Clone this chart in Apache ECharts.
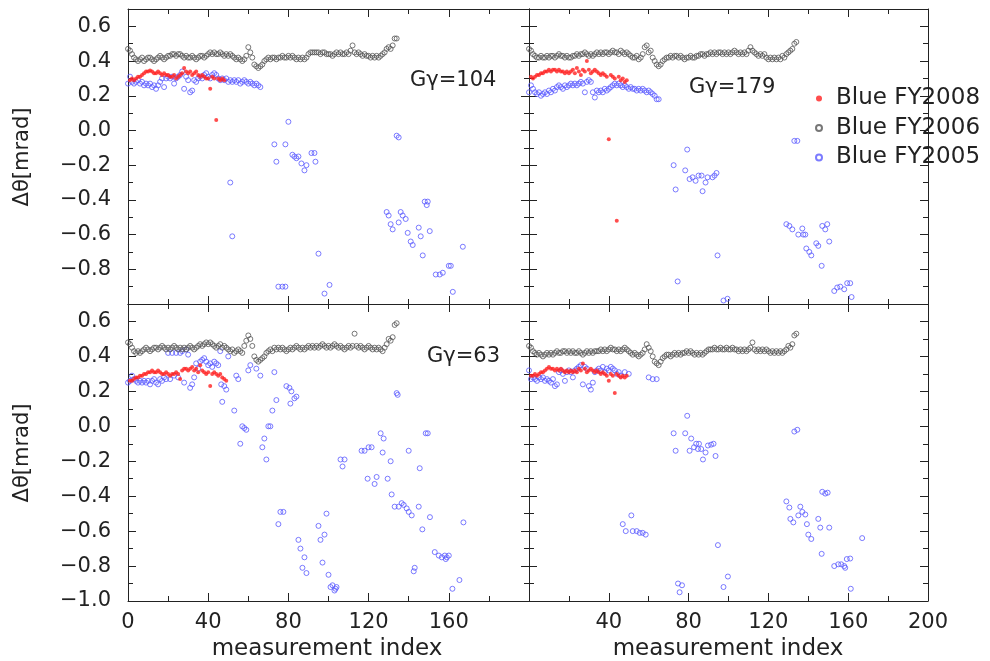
<!DOCTYPE html>
<html><head><meta charset="utf-8">
<script src="https://cdn.jsdelivr.net/npm/echarts@6/dist/echarts.min.js"></script>
<style>html,body{margin:0;padding:0;background:#fff}#c{width:990px;height:661px}</style>
</head><body><div id="c"></div>
<script>
const FONT = 'DejaVu Sans';
const SERIES_NAMES = ['Blue FY2008', 'Blue FY2006', 'Blue FY2005'];
const PANEL_LABELS = ['G\u03b3=104', 'G\u03b3=179', 'G\u03b3=63', ''];
const X_LABEL = 'measurement index';
const Y_LABEL = '\u0394\u03b8[mrad]';

// ---- Gγ=104 (top-left) ----
const fy2006_104 = [ // index 0..134
0.47,0.46,0.44,0.42,0.41, 0.40,0.41,0.42,0.40,0.41, 0.42,0.42,0.41,0.40,0.41, 0.42,0.43,0.42,0.41,0.42,
0.43,0.43,0.44,0.44,0.43, 0.44,0.44,0.43,0.42,0.43, 0.42,0.42,0.43,0.42,0.41, 0.42,0.43,0.43,0.42,0.43,
0.44,0.45,0.44,0.45,0.44, 0.44,0.45,0.44,0.43,0.44, 0.43,0.44,0.43,0.42,0.41, 0.42,0.41,0.40,0.41,0.43,
0.48,0.45,0.42,0.38,0.37, 0.36,0.37,0.38,0.40,0.41, 0.42,0.41,0.42,0.42,0.41, 0.42,0.42,0.43,0.42,0.42,
0.43,0.42,0.43,0.42,0.41, 0.42,0.41,0.42,0.41,0.42, 0.44,0.45,0.45,0.45,0.45, 0.45,0.44,0.45,0.45,0.44,
0.44,0.44,0.43,0.44,0.45, 0.44,0.45,0.44,0.44,0.45, 0.44,0.46,0.49,0.45,0.44, 0.45,0.44,0.43,0.44,0.43,
0.43,0.42,0.43,0.42,0.43, 0.42,0.43,0.44,0.45,0.47, 0.48,0.47,0.49,0.53,0.53];
const fy2008_104 = [ // index 1..48
0.29,0.30,0.29,0.30,0.31,0.31,0.32,0.33,0.34,0.34,0.345,0.34,0.33,0.33,0.34,0.33,0.32,0.33,0.32,0.32,
0.31,0.31,0.32,0.30,0.31,0.32,0.33,0.36,0.34,0.33,0.34,0.32,0.33,0.34,0.32,0.31,0.32,0.31,0.30,0.30,
0.24,0.31,0.30,0.06,0.30,0.29,0.30,0.29];
const fy2005_104_band = [ // index 0..66
0.27,0.31,0.28,0.27,0.28,0.29,0.27,0.28,0.26,0.27,0.26,0.27,0.25,0.26,0.24,0.26,0.28,0.30,0.25,0.30,
0.31,0.30,0.31,0.27,0.30,0.31,0.32,0.34,0.24,0.31,0.29,0.22,0.23,0.29,0.28,0.30,0.31,0.30,0.32,0.33,
0.31,0.30,0.32,0.33,0.32,0.30,0.29,0.30,0.29,0.30,0.28,0.29,0.28,0.29,0.28,0.29,0.27,0.28,0.29,0.28,
0.27,0.28,0.27,0.26,0.27,0.26,0.25];
const fy2005_104_pts = [
[51,-0.30],[52,-0.61],[73,-0.08],[74,-0.18],[75,-0.90],[77,-0.90],[78.5,-0.90],[78.5,-0.08],[80,0.05],
[82,-0.14],[83,-0.15],[84,-0.16],[85,-0.15],[86.5,-0.19],[88,-0.23],[89,-0.20],[91.5,-0.13],[93,-0.13],
[93.5,-0.18],[95,-0.71],[98,-0.94],[100.5,-0.89],[129,-0.47],[130,-0.49],[131,-0.54],[132,-0.57],
[134,-0.03],[135,-0.04],[135,-0.53],[136,-0.47],[137,-0.49],[138.5,-0.51],[139.5,-0.59],[141,-0.64],
[142,-0.66],[145,-0.56],[146,-0.61],[147,-0.72],[148,-0.41],[149.5,-0.41],[149,-0.43],[150.5,-0.58],
[153.5,-0.83],[155.5,-0.83],[157,-0.82],[160,-0.78],[161,-0.78],[162,-0.93],[167,-0.67]];

// ---- Gγ=179 (top-right) ----
const fy2006_179 = [ // index 0..134
0.47,0.46,0.44,0.43,0.42, 0.42,0.43,0.42,0.42,0.43, 0.42,0.43,0.43,0.42,0.43, 0.44,0.43,0.43,0.42,0.43,
0.42,0.42,0.43,0.43,0.44, 0.43,0.44,0.44,0.45,0.44, 0.43,0.44,0.43,0.44,0.45, 0.44,0.45,0.44,0.45,0.45,
0.44,0.45,0.46,0.45,0.45, 0.44,0.46,0.45,0.44,0.45, 0.44,0.43,0.42,0.42,0.43, 0.41,0.42,0.44,0.48,0.49,
0.45,0.46,0.42,0.40,0.38, 0.37,0.38,0.40,0.41,0.42, 0.42,0.43,0.42,0.43,0.43, 0.42,0.43,0.42,0.41,0.42,
0.42,0.43,0.42,0.42,0.43, 0.43,0.44,0.44,0.43,0.44, 0.44,0.45,0.44,0.45,0.44, 0.45,0.45,0.44,0.45,0.44,
0.45,0.44,0.45,0.46,0.45, 0.44,0.45,0.44,0.45,0.44, 0.46,0.48,0.46,0.45,0.44, 0.43,0.44,0.43,0.44,0.42,
0.41,0.42,0.41,0.42,0.41, 0.42,0.41,0.43,0.42,0.44, 0.45,0.46,0.47,0.50,0.51];
const fy2008_179 = [ // index 1..49
0.31,0.30,0.31,0.32,0.32,0.33,0.33,0.34,0.34,0.35,0.34,0.35,0.35,0.34,0.35,0.34,0.34,0.33,0.34,0.33,
0.34,0.35,0.33,0.36,0.34,0.32,0.35,0.34,0.40,0.35,0.33,0.34,0.35,0.34,0.33,0.32,0.33,0.32,0.31,-0.05,
0.32,0.31,0.30,-0.52,0.31,0.29,0.30,0.28,0.29];
const fy2005_179_band = [ // index 0..65
0.22,0.26,0.24,0.22,0.21,0.22,0.20,0.21,0.22,0.21,0.23,0.22,0.24,0.23,0.25,0.26,0.25,0.24,0.26,0.25,
0.26,0.27,0.26,0.27,0.26,0.27,0.28,0.27,0.22,0.28,0.29,0.28,0.22,0.19,0.23,0.22,0.23,0.22,0.24,0.23,
0.24,0.25,0.26,0.27,0.26,0.27,0.26,0.25,0.26,0.25,0.24,0.25,0.24,0.24,0.23,0.24,0.23,0.24,0.23,0.22,
0.23,0.22,0.21,0.20,0.18,0.18];
const fy2005_179_pts = [
[72.5,-0.20],[73.5,-0.34],[74.5,-0.87],[78.3,-0.23],[79.3,-0.11],[80.5,-0.28],[82,-0.27],[83.5,-0.29],
[85,-0.26],[87,-0.35],[86.5,-0.26],[88.5,-0.30],[89.5,-0.27],[92,-0.27],[93,-0.26],[94,-0.245],
[94.5,-0.72],[97.5,-0.98],[99.5,-0.97],[129,-0.54],[130.5,-0.55],[132,-0.57],[133,-0.06],[134.5,-0.06],
[135,-0.60],[137,-0.565],[137.5,-0.60],[138.5,-0.60],[139,-0.68],[140.5,-0.70],[141.5,-0.72],[144,-0.65],
[145,-0.665],[146.7,-0.78],[147,-0.55],[148.5,-0.57],[149.5,-0.54],[150.5,-0.64],[153,-0.925],
[154.5,-0.905],[156,-0.90],[158,-0.915],[159.5,-0.88],[161,-0.88],[161.7,-0.96]];

// ---- Gγ=63 (bottom-left) ----
const fy2006_63 = [ // index 0..134
0.48,0.47,0.45,0.43,0.42, 0.43,0.42,0.43,0.44,0.45, 0.44,0.43,0.44,0.45,0.45, 0.44,0.45,0.46,0.45,0.44,
0.45,0.44,0.45,0.46,0.45, 0.44,0.45,0.44,0.45,0.44, 0.45,0.46,0.45,0.44,0.45, 0.46,0.47,0.46,0.47,0.48,
0.47,0.48,0.47,0.46,0.45, 0.46,0.47,0.45,0.46,0.45, 0.44,0.43,0.44,0.42,0.43, 0.44,0.43,0.42,0.46,0.49,
0.52,0.50,0.46,0.40,0.38, 0.37,0.38,0.39,0.40,0.42, 0.43,0.44,0.43,0.45,0.44, 0.45,0.44,0.45,0.44,0.43,
0.44,0.45,0.44,0.45,0.46, 0.45,0.44,0.45,0.44,0.45, 0.46,0.45,0.46,0.45,0.46, 0.45,0.46,0.47,0.46,0.45,
0.46,0.45,0.46,0.47,0.46, 0.45,0.46,0.45,0.44,0.45, 0.46,0.45,0.46,0.53,0.46, 0.45,0.46,0.45,0.44,0.45,
0.46,0.45,0.44,0.45,0.44, 0.45,0.44,0.43,0.45,0.47, 0.50,0.49,0.51,0.58,0.59];
const fy2008_63 = [ // index 1..49
0.26,0.26,0.27,0.28,0.28,0.29,0.29,0.30,0.30,0.31,0.31,0.32,0.31,0.31,0.32,0.31,0.30,0.30,0.31,0.30,
0.29,0.30,0.30,0.31,0.30,0.27,0.32,0.33,0.33,0.32,0.33,0.34,0.32,0.33,0.31,0.35,0.32,0.31,0.30,0.31,
0.23,0.30,0.31,0.30,0.29,0.30,0.28,0.27,0.26];
const fy2005_63_pts = [
[0,0.25],[1,0.26],[2,0.29],[3,0.27],[4,0.26],[5,0.25],[6,0.26],[7,0.25],[8,0.26],[9,0.25],[10,0.26],
[11,0.24],[12,0.26],[13,0.27],[14,0.25],[15,0.24],[16,0.27],[17,0.26],[18,0.28],[19,0.27],[20,0.42],
[21,0.27],[22,0.42],[23,0.29],[24,0.42],[25,0.28],[26,0.42],[27,0.43],[28,0.25],[29,0.44],[30,0.41],
[31,0.22],[32,0.24],[33,0.28],[34,0.36],[35,0.33],[36,0.37],[37,0.38],[38,0.39],[39,0.37],[40,0.35],
[41,0.36],[42,0.34],[43,0.37],[44,0.36],[45,0.35],[46,0.43],[46.5,0.24],[47,0.14],[48,0.23],[49,0.21],
[50,0.40],[53,0.09],[54,0.29],[55,0.27],[56,-0.10],[57,0.0],[58,-0.01],[59,-0.02],[60,0.32],[61,0.35],
[64,0.33],[66,0.29],[67,-0.12],[68,-0.07],[69,-0.19],[70,0.0],[71,0.0],[72,0.09],[73,0.31],[74,0.15],
[75,-0.56],[76,-0.49],[77.5,-0.49],[79,0.23],[80.5,0.22],[81,0.13],[81.5,0.20],[83,0.16],[84,0.17],
[85,-0.65],[86,-0.70],[87,-0.81],[88,-0.75],[89,-0.84],[95,-0.57],[96,-0.65],[97,-0.78],[98,-0.62],
[99,-0.50],[100,-0.85],[101,-0.92],[102,-0.91],[103,-0.94],[103.5,-0.93],[104,-0.92],[106,-0.19],
[107,-0.23],[108,-0.19],[116.5,-0.14],[118,-0.14],[120,-0.12],[121.5,-0.12],[119.5,-0.30],[123,-0.33],
[124,-0.29],[126,-0.04],[127,-0.15],[127.5,-0.07],[129.5,-0.30],[131,-0.20],[131.5,-0.39],[133,-0.46],
[134,0.19],[134.5,0.18],[135,-0.46],[136.5,-0.44],[137.5,-0.45],[139,-0.47],[140,-0.14],[140,-0.49],
[141.5,-0.51],[143,-0.81],[142.5,-0.83],[145,-0.46],[145.5,-0.24],[146.8,-0.59],[148.5,-0.04],
[149.5,-0.04],[150.6,-0.52],[153,-0.72],[155,-0.74],[156.5,-0.75],[158,-0.74],[159,-0.75],[160,-0.74],
[158.5,-0.76],[161.8,-0.93],[165.3,-0.88],[167.3,-0.55]];

// ---- bottom-right (no label) ----
const fy2006_br = [ // index 0..134
0.46,0.45,0.43,0.42,0.41, 0.42,0.41,0.40,0.41,0.42, 0.41,0.42,0.41,0.42,0.43, 0.42,0.42,0.43,0.43,0.42,
0.43,0.42,0.43,0.42,0.42, 0.43,0.42,0.41,0.42,0.43, 0.42,0.43,0.42,0.43,0.43, 0.43,0.44,0.43,0.44,0.43,
0.44,0.45,0.44,0.44,0.43, 0.44,0.43,0.44,0.45,0.44, 0.43,0.42,0.41,0.42,0.41, 0.40,0.41,0.42,0.44,0.47,
0.45,0.43,0.40,0.37,0.36, 0.35,0.37,0.39,0.40,0.41, 0.41,0.40,0.41,0.42,0.41, 0.42,0.41,0.42,0.42,0.43,
0.42,0.43,0.42,0.41,0.42, 0.41,0.42,0.41,0.42,0.43, 0.44,0.44,0.44,0.45,0.44, 0.44,0.45,0.44,0.44,0.45,
0.44,0.44,0.45,0.44,0.44, 0.43,0.44,0.43,0.44,0.43, 0.44,0.45,0.48,0.44,0.43, 0.44,0.43,0.44,0.43,0.44,
0.43,0.42,0.43,0.42,0.43, 0.42,0.43,0.42,0.43,0.44, 0.46,0.45,0.47,0.52,0.53];
const fy2008_br = [ // index 1..49
0.29,0.29,0.30,0.29,0.30,0.31,0.31,0.32,0.33,0.34,0.33,0.33,0.32,0.33,0.32,0.33,0.32,0.31,0.32,0.31,
0.32,0.31,0.32,0.31,0.33,0.32,0.36,0.33,0.31,0.32,0.33,0.32,0.31,0.32,0.31,0.30,0.31,0.30,0.29,0.26,
0.30,0.29,0.19,0.30,0.29,0.28,0.29,0.28,0.29];
const fy2005_br_pts = [
[0,0.32],[1,0.27],[2,0.28],[3,0.27],[4,0.26],[5,0.28],[6,0.27],[7,0.28],[8,0.26],[9,0.27],[10,0.26],
[11,0.25],[12,0.27],[13,0.23],[14,0.24],[15,0.31],[16,0.32],[17,0.30],[18,0.26],[19,0.31],[20,0.32],
[21,0.31],[22,0.28],[23,0.32],[24,0.33],[25,0.34],[26,0.35],[27,0.24],[28,0.34],[29,0.33],[30,0.23],
[31,0.21],[32,0.25],[33,0.31],[34,0.32],[35,0.33],[36,0.32],[37,0.34],[38,0.31],[39,0.33],[40,0.32],
[41,0.34],[42,0.33],[43,0.32],[44,0.30],[45,0.31],[46,0.29],[48,0.31],[50,0.30],[60,0.28],[62,0.27],
[64,0.27],[47,-0.56],[48.5,-0.60],[51.3,-0.51],[52,-0.60],[54,-0.60],[55.5,-0.61],[57,-0.61],[58.5,-0.62],
[72.5,-0.04],[73.5,-0.14],[74.7,-0.90],[75.5,-0.95],[76.7,-0.91],[78.3,-0.04],[79.3,0.06],[80.5,-0.14],
[81.3,-0.07],[82.7,-0.12],[83.8,-0.10],[85.2,-0.10],[84.7,-0.13],[86.3,-0.13],[87.2,-0.19],[88.5,-0.15],
[89.7,-0.11],[91.3,-0.105],[92.5,-0.10],[93.5,-0.17],[94.7,-0.68],[97.5,-0.92],[99.7,-0.86],[129,-0.43],
[130.5,-0.465],[131,-0.53],[132.5,-0.55],[133,-0.03],[134.5,-0.02],[135,-0.51],[136,-0.46],[137,-0.49],
[138.5,-0.505],[139.3,-0.56],[140,-0.62],[141.5,-0.645],[145,-0.53],[146,-0.58],[146.7,-0.73],
[147,-0.375],[148.5,-0.385],[149.7,-0.38],[150.5,-0.58],[153,-0.80],[155,-0.79],[156.5,-0.79],
[158,-0.80],[158.5,-0.81],[159.3,-0.76],[161,-0.757],[161.3,-0.93],[167,-0.64]];

// ---------- build ----------
const seq = (arr, start) => arr.map((v, k) => [start + k, v]);
const panelsData = [
  {g: fy2006_104, r: fy2008_104, b: seq(fy2005_104_band, 0).concat(fy2005_104_pts)},
  {g: fy2006_179, r: fy2008_179, b: seq(fy2005_179_band, 0).concat(fy2005_179_pts)},
  {g: fy2006_63,  r: fy2008_63,  b: fy2005_63_pts},
  {g: fy2006_br,  r: fy2008_br,  b: fy2005_br_pts}
];
const layout = [
  {left:128, top:9,   width:401, height:295, xLab:false, yLab:true,  hideMinX:false, hideMaxX:false, hideMinY:true},
  {left:529, top:9,   width:399, height:295, xLab:false, yLab:false, hideMinX:false, hideMaxX:false, hideMinY:true},
  {left:128, top:304, width:401, height:297, xLab:true,  yLab:true,  hideMinX:false, hideMaxX:true,  hideMinY:false},
  {left:529, top:304, width:399, height:297, xLab:true,  yLab:false, hideMinX:true,  hideMaxX:false, hideMinY:false}
];
const AX = '#222';
const grids = [], xAxes = [], yAxes = [], series = [];
layout.forEach((L, i) => {
  grids.push({left:L.left, top:L.top, width:L.width, height:L.height, outerBoundsMode:'none', containLabel:false});
  ['bottom','top'].forEach((pos) => {
    const show = L.xLab && pos === 'bottom';
    xAxes.push({type:'value', gridIndex:i, position:pos, min:0, max:200, interval:40,
      axisLine:{show:true, onZero:false, lineStyle:{color:AX, width:1}},
      axisTick:{show:true, inside:true, length:8, lineStyle:{color:AX}},
      minorTick:{show:true, splitNumber:2, length:5, lineStyle:{color:AX}},
      splitLine:{show:false},
      axisLabel:{show:show, margin:11, fontFamily:FONT, fontSize:21, color:'#222',
        formatter: v => ((L.hideMinX && v === 0) || (L.hideMaxX && v === 200)) ? '' : String(v)}
    });
  });
  ['left','right'].forEach((pos) => {
    const show = L.yLab && pos === 'left';
    yAxes.push({type:'value', gridIndex:i, position:pos, min:-1, max:0.7, interval:0.2,
      axisLine:{show:true, onZero:false, lineStyle:{color:AX, width:1}},
      axisTick:{show:true, inside:true, length:8, lineStyle:{color:AX}},
      minorTick:{show:true, splitNumber:2, length:5, lineStyle:{color:AX}},
      splitLine:{show:false},
      axisLabel:{show:show, margin:17, fontFamily:FONT, fontSize:21, color:'#222',
        formatter: v => {
          if (v > 0.65) return '';
          if (L.hideMinY && v < -0.95) return '';
          const s = (Math.abs(v) < 1e-9 ? 0 : v).toFixed(1);
          return s.replace('-', '\u2212');
        }}
    });
  });
  const D = panelsData[i];
  series.push({type:'scatter', name:SERIES_NAMES[2], xAxisIndex:2*i, yAxisIndex:2*i, data:D.b,
    symbol:'circle', symbolSize:5, itemStyle:{color:'rgba(0,0,0,0)', borderColor:'#5a5aff', borderWidth:1}, z:2});
  series.push({type:'scatter', name:SERIES_NAMES[1], xAxisIndex:2*i, yAxisIndex:2*i, data:seq(D.g, 0),
    symbol:'circle', symbolSize:5, itemStyle:{color:'rgba(0,0,0,0)', borderColor:'#555', borderWidth:1}, z:3});
  series.push({type:'scatter', name:SERIES_NAMES[0], xAxisIndex:2*i, yAxisIndex:2*i, data:seq(D.r, 1),
    symbol:'circle', symbolSize:4, itemStyle:{color:'#ff2020', borderWidth:0}, z:4});
});

const txt = (text, x, y, size, extra) => Object.assign({type:'text', x:x, y:y, silent:true,
  style:{text:text, fontFamily:FONT, fontSize:size, fill:'#222', align:'left', verticalAlign:'middle'}}, extra || {});
const graphic = [
  txt(PANEL_LABELS[0], 410, 81, 21),
  txt(PANEL_LABELS[1], 689, 88, 21),
  txt(PANEL_LABELS[2], 427, 357, 21),
  {type:'text', x:23, y:157, rotation:Math.PI/2, silent:true,
    style:{text:Y_LABEL, fontFamily:FONT, fontSize:21, fill:'#222', align:'center', verticalAlign:'middle'}},
  {type:'text', x:23, y:453, rotation:Math.PI/2, silent:true,
    style:{text:Y_LABEL, fontFamily:FONT, fontSize:21, fill:'#222', align:'center', verticalAlign:'middle'}},
  {type:'text', x:327, y:649, silent:true,
    style:{text:X_LABEL, fontFamily:FONT, fontSize:23, fill:'#222', align:'center', verticalAlign:'middle'}},
  {type:'text', x:728, y:649, silent:true,
    style:{text:X_LABEL, fontFamily:FONT, fontSize:23, fill:'#222', align:'center', verticalAlign:'middle'}}
];

const chart = echarts.init(document.getElementById('c'), null, {renderer:'canvas', width:990, height:661});
chart.setOption({
  animation:false,
  backgroundColor:'#fff',
  grid:grids, xAxis:xAxes, yAxis:yAxes, series:series,
  legend:{data:SERIES_NAMES, orient:'vertical', left:815, top:87, padding:0,
    itemWidth:6, itemHeight:6, itemGap:6.5,
    textStyle:{fontFamily:FONT, fontSize:23, color:'#222', padding:[0,0,0,9]}},
  graphic:graphic
});
</script>
</body></html>
